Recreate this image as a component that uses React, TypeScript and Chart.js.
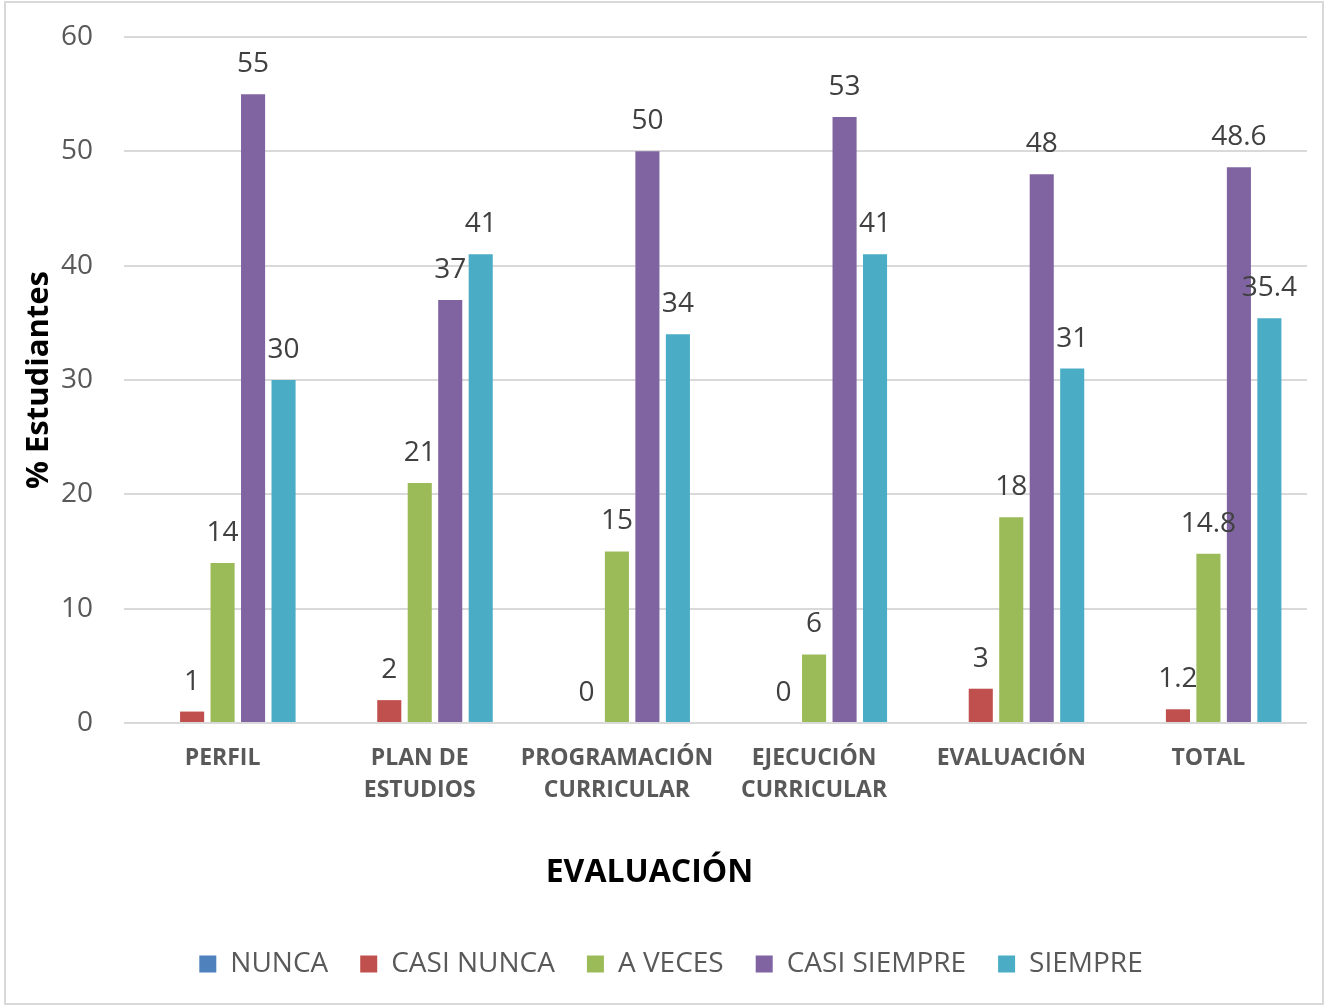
import React, { useEffect, useRef } from "react";
import { Chart, registerables } from "chart.js";

Chart.register(...registerables);

const categories: (string | string[])[] = [
  "PERFIL",
  ["PLAN DE", "ESTUDIOS"],
  ["PROGRAMACIÓN", "CURRICULAR"],
  ["EJECUCIÓN", "CURRICULAR"],
  "EVALUACIÓN",
  "TOTAL",
];
const seriesNames = ["NUNCA", "CASI NUNCA", "A VECES", "CASI SIEMPRE", "SIEMPRE"];
const nunca = [0, 0, 0, 0, 0, 0];
const casiNunca = [1, 2, 0, 0, 3, 1.2];
const aVeces = [14, 21, 15, 6, 18, 14.8];
const casiSiempre = [55, 37, 50, 53, 48, 48.6];
const siempre = [30, 41, 34, 41, 31, 35.4];
const seriesColors = ["#4F81BD", "#C0504D", "#9BBB59", "#8064A2", "#4BACC6"];
const labelledSeries = [false, true, true, true, true];
const xTitle = "EVALUACIÓN";
const yTitle = "% Estudiantes";

const FONT = "'Open Sans', 'DejaVu Sans', sans-serif";

const valueLabels = {
  id: "valueLabels",
  afterDatasetsDraw(chart: any) {
    const ctx = chart.ctx;
    ctx.save();
    ctx.font = `28px ${FONT}`;
    ctx.fillStyle = "#404040";
    ctx.textAlign = "center";
    ctx.textBaseline = "middle";
    chart.data.datasets.forEach((ds: any, i: number) => {
      if (!labelledSeries[i]) return;
      const meta = chart.getDatasetMeta(i);
      meta.data.forEach((bar: any, j: number) => {
        const v = ds.data[j];
        if (v === null || v === undefined) return;
        ctx.fillText(String(v), bar.x, bar.y - 30);
      });
    });
    ctx.restore();
  },
};

const xTitlePlugin = {
  id: "xTitlePlugin",
  afterDraw(chart: any) {
    const ctx = chart.ctx;
    ctx.save();
    ctx.font = `bold 32px ${FONT}`;
    ctx.fillStyle = "#000000";
    ctx.textAlign = "center";
    ctx.textBaseline = "middle";
    ctx.fillText(xTitle, chart.width / 2 - 17, 873);
    ctx.restore();
  },
};

export default function App() {
  const ref = useRef<HTMLCanvasElement | null>(null);
  useEffect(() => {
    if (!ref.current) return;
    Chart.defaults.font.family = FONT;
    const allData = [nunca, casiNunca, aVeces, casiSiempre, siempre];
    const chart = new Chart(ref.current, {
      type: "bar",
      data: {
        labels: categories,
        datasets: allData.map((d, i) => ({
          label: seriesNames[i],
          data: d,
          backgroundColor: seriesColors[i],
          borderWidth: 0,
          categoryPercentage: 0.773,
          barPercentage: 0.79,
        })),
      },
      options: {
        animation: false,
        responsive: true,
        maintainAspectRatio: false,
        layout: { padding: { left: 35, right: 26, top: 37, bottom: 18 } },
        plugins: {
          tooltip: { enabled: false },
          legend: {
            position: "bottom",
            labels: {
              boxWidth: 17,
              boxHeight: 17,
              padding: 32,
              color: "#595959",
              font: { size: 28, family: FONT },
            },
          },
        },
        scales: {
          x: {
            grid: { display: false, drawTicks: false },
            border: { display: false },
            ticks: {
              color: "#595959",
              font: { size: 23, weight: "bold", family: FONT, lineHeight: "32px" } as any,
              padding: 19,
              maxRotation: 0,
              autoSkip: false,
            },
            afterFit(scale: any) {
              scale.height = 195;
            },
          },
          y: {
            min: 0,
            max: 60,
            ticks: {
              stepSize: 10,
              color: "#595959",
              font: { size: 28, family: FONT },
              padding: 31,
            },
            grid: { color: "#d9d9d9", lineWidth: 2, drawTicks: false },
            border: { display: false },
            title: {
              display: true,
              text: yTitle,
              color: "#000000",
              font: { size: 31, weight: "bold", family: FONT, lineHeight: 1.2 },
              padding: { top: -14, bottom: 0 },
            },
            afterFit(scale: any) {
              scale.width = 89;
              scale.paddingTop = 0;
              scale.paddingBottom = 0;
            },
          },
        },
      },
      plugins: [valueLabels, xTitlePlugin],
    });
    return () => chart.destroy();
  }, []);

  return (
    <div
      style={{
        position: "fixed",
        left: 0,
        top: 0,
        width: 1333,
        height: 1006,
        background: "#ffffff",
      }}
    >
      <div
        style={{
          position: "absolute",
          left: 4,
          top: 1,
          width: 1316,
          height: 1000,
          border: "2px solid #d9d9d9",
          pointerEvents: "none",
        }}
      />
      <canvas ref={ref} style={{ position: "absolute", left: 0, top: 0, width: "100%", height: "100%" }} />
    </div>
  );
}
